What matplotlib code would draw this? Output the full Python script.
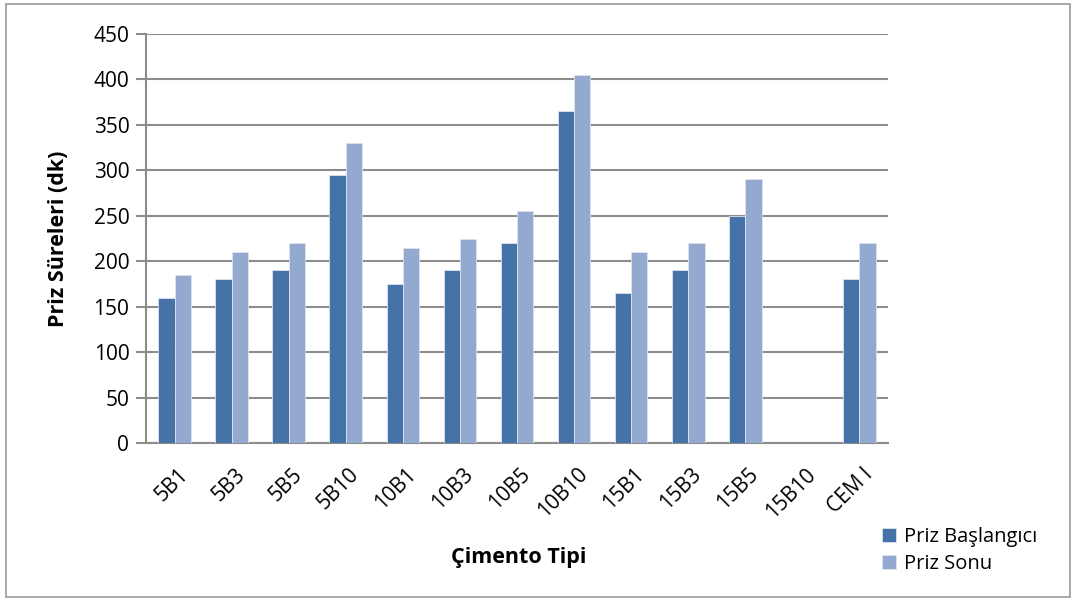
import numpy as np
import matplotlib.pyplot as plt
from matplotlib.patches import Rectangle

plt.rcParams['font.family'] = ['Open Sans', 'DejaVu Sans']

categories = ['5B1', '5B3', '5B5', '5B10', '10B1', '10B3', '10B5', '10B10',
              '15B1', '15B3', '15B5', '15B10', 'CEM I']
priz_baslangici = [160, 180, 190, 295, 175, 190, 220, 365, 165, 190, 250, 0, 180]
priz_sonu = [185, 210, 220, 330, 215, 225, 255, 405, 210, 220, 290, 0, 220]
y_ticks = [0, 50, 100, 150, 200, 250, 300, 350, 400, 450]

dark = '#4572A7'
light = '#94A9D0'
grid_col = '#8C8C8C'
fs = 15

fig = plt.figure(figsize=(10.76, 6.01), dpi=100)
fig.patches.append(Rectangle((0.006, 0.006), 0.988, 0.987, transform=fig.transFigure,
                             fill=False, edgecolor='#9A9A9A', linewidth=1.2))
ax = fig.add_axes([146 / 1076, 1 - 443 / 601, (888 - 146) / 1076, (443 - 34) / 601])

x = np.arange(len(categories))
w = 1 / 3.5
ax.bar(x - w / 2, priz_baslangici, w, color=dark, edgecolor='#DDE3EE', linewidth=0.6,
       label='Priz Başlangıcı', zorder=3)
ax.bar(x + w / 2, priz_sonu, w, color=light, edgecolor='#DDE3EE', linewidth=0.6,
       label='Priz Sonu', zorder=3)

ax.set_xlim(-0.5, len(categories) - 0.5)
ax.set_ylim(0, 450)
ax.set_yticks(y_ticks)
ax.yaxis.grid(True, color=grid_col, linewidth=1.5, zorder=0)
ax.set_axisbelow(True)

for s in ['top', 'right']:
    ax.spines[s].set_visible(False)
for s in ['left', 'bottom']:
    ax.spines[s].set_color(grid_col)
    ax.spines[s].set_linewidth(1.5)

ax.tick_params(axis='y', length=7, width=1.5, color=grid_col, labelsize=fs, pad=5)
ax.tick_params(axis='x', length=0, labelsize=fs, pad=15)
ax.set_xticks(x + 0.05)
ax.set_xticklabels(categories, rotation=45, ha='right', rotation_mode='anchor')

# axis titles placed in figure pixels
fig.text(58 / 1076, 1 - 239 / 601, 'Priz Süreleri (dk)', fontsize=15.5, fontweight='bold',
         rotation=90, ha='center', va='center')
fig.text(519 / 1076, 1 - 557 / 601, 'Çimento Tipi', fontsize=15.5, fontweight='bold',
         ha='center', va='center')

fig.legend(loc='upper left', bbox_to_anchor=(874 / 1076, 1 - 519 / 601), frameon=False,
           fontsize=14.5, handlelength=0.7, handleheight=0.7, handletextpad=0.4,
           labelspacing=0.35, borderaxespad=0)

fig.savefig('out.png', dpi=100)
